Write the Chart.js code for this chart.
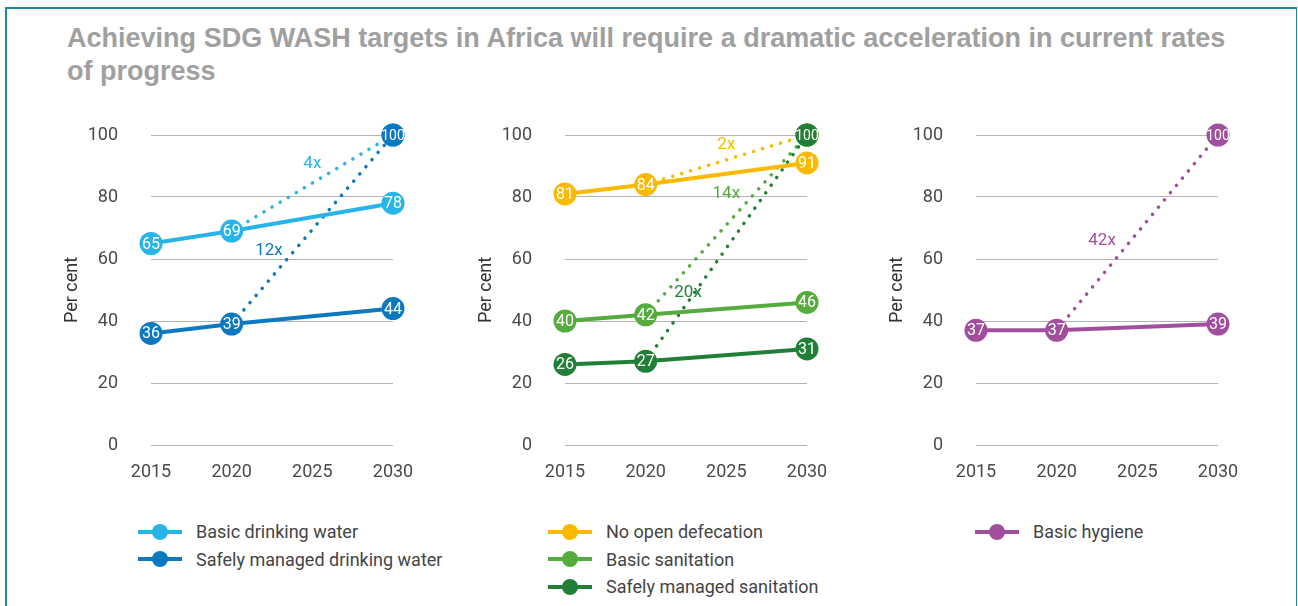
<!DOCTYPE html>
<html>
<head>
<meta charset="utf-8">
<script src="https://cdn.jsdelivr.net/npm/chart.js@4.4.1/dist/chart.umd.min.js"></script>
<style>
  body { margin: 0; width: 1298px; height: 606px; overflow: hidden; background: #fff; font-family: Roboto, "Liberation Sans", Arial, sans-serif; }
  .frame { position: absolute; left: 5px; top: 7px; width: 1289px; height: 620px; border-top: 2px solid #1b8a9c; border-left: 2px solid #1b8a9c; border-right: 1px solid #1b8a9c; }
  .title { position: absolute; left: 67px; top: 21px; color: #a0a0a0; font-family: "Liberation Sans", Arial, sans-serif; font-weight: bold; font-size: 28px; line-height: 33px; }
  .title span { display: inline-block; white-space: nowrap; transform-origin: 0 0; }
  .panel { position: absolute; top: 110px; width: 360px; height: 375px; }
  .legend { position: absolute; top: 518px; font-size: 18px; color: #444; }
  .item { height: 27.5px; display: flex; align-items: center; }
  .key { position: relative; width: 44px; height: 4px; margin-right: 14px; }
  .key i { position: absolute; left: 14px; top: -6px; width: 16px; height: 16px; border-radius: 50%; background: inherit; }
</style>
</head>
<body>
<div class="frame"></div>
<div class="title"><span id="t1">Achieving SDG WASH targets in Africa will require a dramatic acceleration in current rates</span><br><span id="t2">of progress</span></div>

<div class="panel" style="left:60px"><canvas id="c1"></canvas></div>
<div class="panel" style="left:474px"><canvas id="c2"></canvas></div>
<div class="panel" style="left:885px"><canvas id="c3"></canvas></div>

<div class="legend" style="left:138px" id="l1"></div>
<div class="legend" style="left:548px" id="l2"></div>
<div class="legend" style="left:975px" id="l3"></div>

<script>
const years = [2015, 2020, 2030]
const targetYear = 2030
const target = 100

// drinking water
const basicWater = [65, 69, 78]
const safeWater = [36, 39, 44]
const waterAccel = ['4x', '12x']

// sanitation
const noOpenDefecation = [81, 84, 91]
const basicSanitation = [40, 42, 46]
const safeSanitation = [26, 27, 31]
const sanitationAccel = ['2x', '14x', '20x']

// hygiene
const basicHygiene = [37, 37, 39]
const hygieneAccel = ['42x']

const yTicks = [0, 20, 40, 60, 80, 100]
const xTicks = [2015, 2020, 2025, 2030]

// where the "Nx" labels sit: fraction along the dotted line, then pixel shift
const accelPos = {
  '4x': [0.5, 0, -19], '12x': [0.2, 5, -36],
  '2x': [0.5, 0, -15], '14x': [0.5, 0, -31], '20x': [0.3, -6, -1],
  '42x': [0.3, -3, -31]
}

const colors = {
  basicWater: '#29b4e8', safeWater: '#0b79c0',
  noOpenDefecation: '#fbb900', basicSanitation: '#56ab3e', safeSanitation: '#227f38',
  basicHygiene: '#a14f9d'
}

// squeeze the title into the width it has in the report
const t1 = document.getElementById('t1')
const squeeze = 1158 / t1.offsetWidth
t1.style.transform = 'scaleX(' + squeeze + ')'
document.getElementById('t2').style.transform = 'scaleX(' + squeeze + ')'

function solid (label, values, color) {
  return {
    label: label,
    data: values.map((v, i) => ({ x: years[i], y: v })),
    borderColor: color,
    backgroundColor: color,
    borderWidth: 4,
    pointRadius: 11.5,
    pointBorderWidth: 0,
    showValues: true
  }
}

function dotted (values, color, accel) {
  return {
    data: [{ x: years[1], y: values[1] }, { x: targetYear, y: target }],
    borderColor: color,
    backgroundColor: color,
    borderWidth: 3.5,
    borderDash: [0.1, 9.3],
    borderCapStyle: 'round',
    pointRadius: [0, 11.5],
    pointBorderWidth: 0,
    showValues: true,
    accel: accel
  }
}

const valueLabels = {
  id: 'valueLabels',
  afterDatasetDraw (chart, args) {
    const ds = chart.data.datasets[args.index]
    const ctx = chart.ctx
    const pts = args.meta.data
    ctx.save()
    if (ds.showValues) {
      pts.forEach((el, j) => {
        const r = Array.isArray(ds.pointRadius) ? ds.pointRadius[j] : ds.pointRadius
        if (!r) return
        const v = ds.data[j].y
        ctx.fillStyle = '#fff'
        ctx.font = (v >= 100 ? '14px' : '16px') + ' Roboto, "Liberation Sans", Arial, sans-serif'
        ctx.textAlign = 'center'
        ctx.textBaseline = 'middle'
        ctx.fillText(String(v), el.x, el.y + 1)
      })
    }
    if (ds.accel) {
      const p = accelPos[ds.accel]
      const a = pts[0]
      const b = pts[1]
      const x = a.x + (b.x - a.x) * p[0] + p[1]
      const y = a.y + (b.y - a.y) * p[0] + p[2]
      ctx.fillStyle = ds.borderColor
      ctx.font = '17px Roboto, "Liberation Sans", Arial, sans-serif'
      ctx.textAlign = 'center'
      ctx.textBaseline = 'middle'
      ctx.fillText(ds.accel, x, y)
    }
    ctx.restore()
  }
}

const tickFont = { family: 'Roboto, "Liberation Sans", Arial, sans-serif', size: 18 }

function makeChart (id, datasets) {
  return new Chart(document.getElementById(id), {
    type: 'line',
    data: { datasets: datasets },
    plugins: [valueLabels],
    options: {
      responsive: true,
      maintainAspectRatio: false,
      animation: false,
      events: [],
      clip: false,
      layout: { autoPadding: false, padding: { top: 25, right: 27, left: 0, bottom: 0 } },
      plugins: { legend: { display: false }, tooltip: { enabled: false } },
      scales: {
        x: {
          type: 'linear',
          min: xTicks[0],
          max: xTicks[xTicks.length - 1],
          afterBuildTicks: scale => { scale.ticks = xTicks.map(v => ({ value: v })) },
          afterFit: scale => {
            scale.height = 40
            scale.paddingLeft = 0
            scale.paddingRight = 0
          },
          grid: { display: false },
          border: { display: false },
          ticks: { color: '#4a4a4a', font: tickFont, padding: 9, maxRotation: 0, callback: v => String(v) }
        },
        y: {
          min: yTicks[0],
          max: yTicks[yTicks.length - 1],
          afterBuildTicks: scale => { scale.ticks = yTicks.map(v => ({ value: v })) },
          afterFit: scale => {
            scale.width = 91
            scale.paddingTop = 0
            scale.paddingBottom = 0
          },
          grid: { color: '#b4b4b4', lineWidth: 1, drawTicks: false },
          border: { display: false },
          ticks: { color: '#4a4a4a', font: tickFont, padding: 33, callback: v => String(v) },
          title: { display: true, text: 'Per cent', color: '#333', font: tickFont, padding: { top: 2, bottom: 0 } }
        }
      }
    }
  })
}

makeChart('c1', [
  solid('Basic drinking water', basicWater, colors.basicWater),
  solid('Safely managed drinking water', safeWater, colors.safeWater),
  dotted(safeWater, colors.safeWater, waterAccel[1]),
  dotted(basicWater, colors.basicWater, waterAccel[0])
])

makeChart('c2', [
  solid('No open defecation', noOpenDefecation, colors.noOpenDefecation),
  solid('Basic sanitation', basicSanitation, colors.basicSanitation),
  solid('Safely managed sanitation', safeSanitation, colors.safeSanitation),
  dotted(safeSanitation, colors.safeSanitation, sanitationAccel[2]),
  dotted(basicSanitation, colors.basicSanitation, sanitationAccel[1]),
  dotted(noOpenDefecation, colors.noOpenDefecation, sanitationAccel[0])
])

makeChart('c3', [
  solid('Basic hygiene', basicHygiene, colors.basicHygiene),
  dotted(basicHygiene, colors.basicHygiene, hygieneAccel[0])
])

function legend (id, items) {
  document.getElementById(id).innerHTML = items.map(it =>
    '<div class="item"><span class="key" style="background:' + it[1] + '"><i></i></span>' + it[0] + '</div>'
  ).join('')
}

legend('l1', [['Basic drinking water', colors.basicWater], ['Safely managed drinking water', colors.safeWater]])
legend('l2', [['No open defecation', colors.noOpenDefecation], ['Basic sanitation', colors.basicSanitation], ['Safely managed sanitation', colors.safeSanitation]])
legend('l3', [['Basic hygiene', colors.basicHygiene]])
</script>
</body>
</html>
